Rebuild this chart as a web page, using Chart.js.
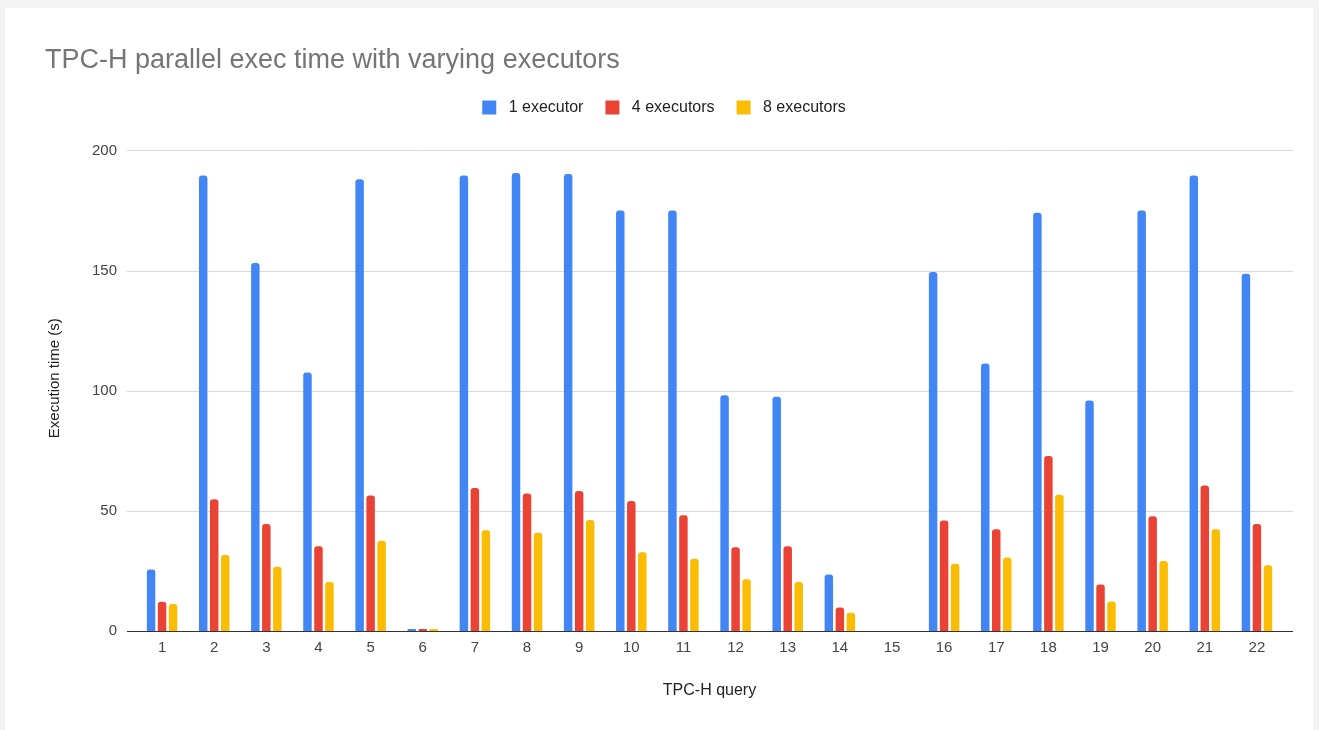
<!DOCTYPE html>
<html>
<head>
<meta charset="utf-8">
<title>TPC-H parallel exec time with varying executors</title>
<script src="https://cdn.jsdelivr.net/npm/chart.js@4/dist/chart.umd.min.js"></script>
<style>
  html, body { margin: 0; padding: 0; background: #f3f3f3; overflow: hidden; }
  #card { position: absolute; left: 5px; top: 8px; width: 1308px; height: 722px; background: #ffffff; }
  #chart { position: absolute; left: 0; top: 0; }
</style>
</head>
<body>
<div id="card"></div>
<canvas id="chart" width="1319" height="730"></canvas>
<script>
// TPC-H query numbers
const queries = ['1','2','3','4','5','6','7','8','9','10','11','12','13','14','15','16','17','18','19','20','21','22'];

// Execution time in seconds per query
const oneExecutor = [25.6, 189.6, 153.1, 107.6, 188.0, 0.8, 189.6, 190.6, 190.2, 175.0, 175.0,
                     98.1, 97.5, 23.5, null, 149.4, 111.3, 174.0, 95.9, 175.0, 189.6, 148.7];
const fourExecutors = [12.2, 54.8, 44.5, 35.3, 56.4, 0.8, 59.5, 57.2, 58.3, 54.1, 48.2,
                       34.8, 35.3, 9.8, null, 46.0, 42.3, 72.8, 19.3, 47.8, 60.6, 44.5];
const eightExecutors = [11.2, 31.6, 26.7, 20.4, 37.6, 0.8, 41.9, 40.9, 46.2, 32.8, 30.1,
                        21.5, 20.4, 7.6, null, 28.0, 30.6, 56.7, 12.3, 29.1, 42.3, 27.4];

// Y axis tick values
const yTicks = [0, 50, 100, 150, 200];

const FONT = '"Liberation Sans", Arial, sans-serif';

// Gridlines and baseline run a little past the plot area on both sides
const gridPlugin = {
  id: 'wideGrid',
  beforeDatasetsDraw(chart) {
    const { ctx, scales: { y }, chartArea } = chart;
    const x0 = chartArea.left - 9, x1 = chartArea.right + 10;
    ctx.save();
    ctx.strokeStyle = '#d9d9d9';
    ctx.lineWidth = 1;
    y.ticks.forEach(t => {
      if (t.value === 0) return;
      const py = Math.round(y.getPixelForValue(t.value)) + 0.5;
      ctx.beginPath();
      ctx.moveTo(x0, py);
      ctx.lineTo(x1, py);
      ctx.stroke();
    });
    ctx.restore();
  },
  afterDatasetsDraw(chart) {
    const { ctx, scales: { y }, chartArea } = chart;
    const x0 = chartArea.left - 9, x1 = chartArea.right + 10;
    const py = Math.round(y.getPixelForValue(0)) + 0.5;
    ctx.save();
    ctx.strokeStyle = '#333333';
    ctx.lineWidth = 1;
    ctx.beginPath();
    ctx.moveTo(x0, py);
    ctx.lineTo(x1, py);
    ctx.stroke();
    ctx.restore();
  }
};

const barStyle = {
  categoryPercentage: 0.633,
  barPercentage: 0.77,
  borderRadius: { topLeft: 3, topRight: 3, bottomLeft: 0, bottomRight: 0 },
  borderSkipped: 'start'
};

new Chart(document.getElementById('chart'), {
  type: 'bar',
  data: {
    labels: queries,
    datasets: [
      Object.assign({ label: '1 executor', data: oneExecutor, backgroundColor: '#4285f4' }, barStyle),
      Object.assign({ label: '4 executors', data: fourExecutors, backgroundColor: '#ea4335' }, barStyle),
      Object.assign({ label: '8 executors', data: eightExecutors, backgroundColor: '#fbbc04' }, barStyle)
    ]
  },
  options: {
    responsive: false,
    animation: false,
    devicePixelRatio: 1,
    layout: { padding: { left: 45, right: 36, top: 0, bottom: 0 } },
    plugins: {
      title: {
        display: true,
        text: 'TPC-H parallel exec time with varying executors',
        align: 'start',
        color: '#757575',
        font: { family: FONT, size: 27, weight: 'normal' },
        padding: { top: 44, bottom: 1 }
      },
      legend: {
        display: true,
        position: 'top',
        labels: {
          boxWidth: 14,
          boxHeight: 14,
          padding: 22,
          color: '#222222',
          font: { family: FONT, size: 16 },
          generateLabels(chart) {
            const items = Chart.defaults.plugins.legend.labels.generateLabels(chart);
            items.forEach(it => { it.text = ' ' + it.text; });
            return items;
          }
        }
      },
      tooltip: { enabled: false }
    },
    scales: {
      x: {
        type: 'category',
        offset: true,
        grid: { display: false, drawTicks: false },
        border: { display: false },
        ticks: {
          color: '#444444',
          padding: 8,
          maxRotation: 0,
          autoSkip: false,
          font: { family: FONT, size: 15 }
        },
        title: {
          display: true,
          text: 'TPC-H query',
          color: '#222222',
          font: { family: FONT, size: 16 },
          padding: { top: 0, bottom: 30 }
        },
        afterFit(scale) { scale.height = 99; }
      },
      y: {
        min: 0,
        max: 210.4,
        grid: { display: false, drawTicks: false },
        border: { display: false },
        ticks: {
          stepSize: 50,
          color: '#444444',
          padding: 19,
          font: { family: FONT, size: 15 }
        },
        afterBuildTicks(scale) {
          scale.ticks = yTicks.map(v => ({ value: v }));
        },
        title: {
          display: true,
          text: 'Execution time (s)',
          color: '#222222',
          font: { family: FONT, size: 15 },
          padding: { top: 1, bottom: 0 }
        },
        afterFit(scale) { scale.width = 91; }
      }
    }
  },
  plugins: [gridPlugin]
});
</script>
</body>
</html>
